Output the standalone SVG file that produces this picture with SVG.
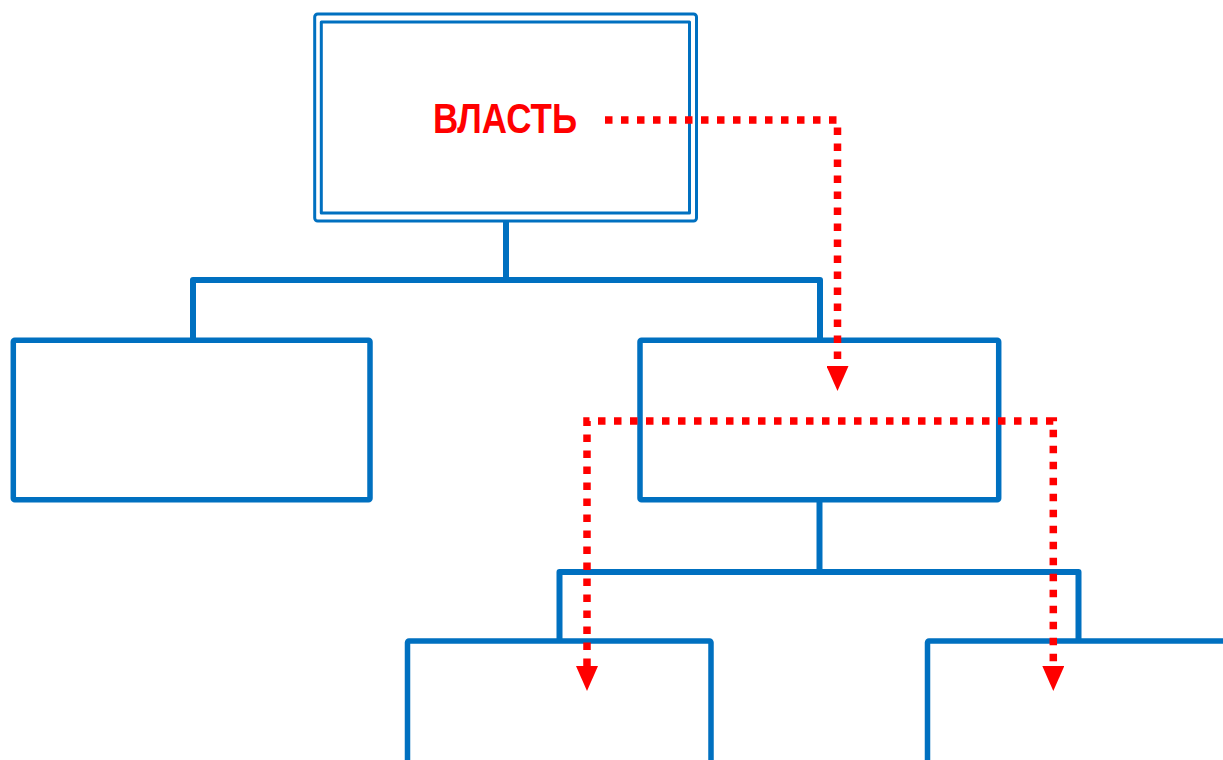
<svg xmlns="http://www.w3.org/2000/svg" width="1223" height="760" viewBox="0 0 1223 760">
<style>
.box{fill:#FFFFFF;stroke:#0070C0;stroke-width:5.5;stroke-linejoin:round}
.thin{fill:none;stroke:#0070C0;stroke-width:3;stroke-linejoin:round}
.link{fill:none;stroke:#0070C0;stroke-width:6;stroke-linejoin:round}
.dot{fill:none;stroke:#FF0000;stroke-width:7.5;stroke-dasharray:7.5 8.5}
.lbl{font-family:"Liberation Sans",Arial,sans-serif;font-weight:bold;font-size:42px;fill:#FF0000}
</style>
<defs>
<marker id="ah" viewBox="0 0 25 22" refX="0" refY="11" markerWidth="25" markerHeight="22" markerUnits="userSpaceOnUse" orient="auto-start-reverse">
<path d="M0,0 L25,11 L0,22 Z" fill="#FF0000"/>
</marker>
</defs>
<rect width="1223" height="760" fill="#FFFFFF"/>
<g id="connectors">
<path class="link" d="M506,222 V280"/>
<path class="link" d="M193,340 V280 H820 V340"/>
<path class="link" d="M819.5,500 V572"/>
<path class="link" d="M559.5,641 V572 H1078.5 V641"/>
</g>
<g id="node-vlast">
<rect class="thin" x="314.7" y="14" width="381.8" height="207" rx="3"/>
<rect class="thin" x="321.3" y="22" width="368.2" height="191"/>
<text class="lbl" x="433" y="133" textLength="144" lengthAdjust="spacingAndGlyphs">ВЛАСТЬ</text>
</g>
<g id="node-left">
<rect class="box" x="13.3" y="340.3" width="356.7" height="159.4" rx="1.5"/>
</g>
<g id="node-right">
<rect class="box" x="640" y="340.3" width="358.7" height="159.4" rx="1.5"/>
</g>
<g id="node-bottom-left">
<rect class="box" x="407.5" y="641" width="303.5" height="140" rx="1.5"/>
</g>
<g id="node-bottom-right">
<rect class="box" x="927.5" y="641" width="320" height="140" rx="1.5"/>
</g>
<g id="influence">
<path class="dot" d="M605,120 H837.5 V366" marker-end="url(#ah)"/>
<path class="dot" d="M587,666 V421 H1053.3 V666" marker-start="url(#ah)" marker-end="url(#ah)"/>
</g>
</svg>
